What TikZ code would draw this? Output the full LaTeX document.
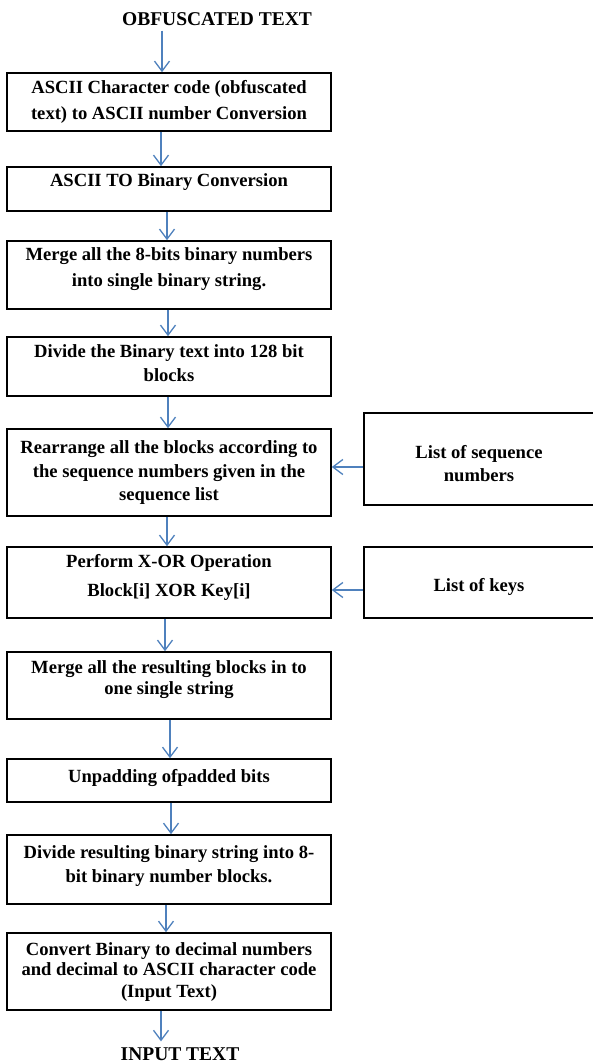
\documentclass[tikz,border=0pt]{standalone}
\usepackage{fontspec}
\setmainfont{Liberation Serif}
\usetikzlibrary{arrows.meta,calc}
\definecolor{arrowblue}{RGB}{79,129,189}
\newcommand{\lift}[2]{\raisebox{#1}[\height][\depth]{\begin{tabular}{@{}c@{}}#2\end{tabular}}}
\newcommand{\boxfont}{\fontsize{18.6}{24}\selectfont\bfseries}
\tikzset{
  stepbox/.style={draw=black, line width=1.6pt, inner sep=0pt, minimum width=324pt, font=\boxfont},
  sidebox/.style={draw=black, line width=1.6pt, inner sep=0pt, minimum width=230pt, font=\boxfont},
  endlabel/.style={inner sep=0pt, font=\fontsize{19.5}{24}\selectfont\bfseries},
  arr/.style={draw=arrowblue, line width=1.3pt, -{Straight Barb[length=10pt,width=15pt,line width=1.3pt]}}
}
\begin{document}
\begin{tikzpicture}[x=1pt,y=-1pt]
\useasboundingbox (0,0) rectangle (593,1064);
\node[endlabel] (top) at (217,19) {OBFUSCATED TEXT};
\node[stepbox, minimum height=58pt] (b1) at (169,102) {\lift{0pt}{ASCII Character code (obfuscated\\[2pt] text) to ASCII number Conversion}};
\node[stepbox, minimum height=44pt] (b2) at (169,189) {\lift{7pt}{ASCII TO Binary Conversion}};
\node[stepbox, minimum height=68pt] (b3) at (169,275) {\lift{6pt}{Merge all the 8-bits binary numbers\\[2pt] into single binary string.}};
\node[stepbox, minimum height=59pt] (b4) at (169,366.5) {\lift{2pt}{Divide the Binary text into 128 bit\\ blocks}};
\node[stepbox, minimum height=87pt] (b5) at (169,472.5) {\lift{0pt}{Rearrange all the blocks according to\\ the sequence numbers given in the\\[-1pt] sequence list}};
\node[stepbox, minimum height=71pt] (b6) at (169,582.5) {\lift{5pt}{Perform X-OR Operation\\[5pt] Block[i] XOR Key[i]}};
\node[stepbox, minimum height=67pt] (b7) at (169,685.5) {\lift{6pt}{Merge all the resulting blocks in to\\[-3pt] one single string}};
\node[stepbox, minimum height=43pt] (b8) at (169,780.5) {\lift{3pt}{Unpadding ofpadded bits}};
\node[stepbox, minimum height=69pt] (b9) at (169,869.5) {\lift{4pt}{Divide resulting binary string into 8-\\ bit binary number blocks.}};
\node[stepbox, minimum height=77pt] (b10) at (169,971.5) {\lift{0pt}{Convert Binary to decimal numbers\\[-4pt] and decimal to ASCII character code\\[-2pt] (Input Text)}};
\node[endlabel] (bottom) at (180,1054) {INPUT TEXT};
\node[sidebox, minimum height=92pt] (r1) at (479,459) {\lift{-6pt}{List of sequence\\[-1pt] numbers}};
\node[sidebox, minimum height=71pt] (r2) at (479,582.5) {\lift{-4pt}{List of keys}};
% vertical flow
\draw[arr] ([xshift=-55pt,yshift=-5pt]top.south) -- ([xshift=-7pt]b1.north);
\draw[arr] ([xshift=-8pt]b1.south) -- ([xshift=-8pt]b2.north);
\draw[arr] ([xshift=-2pt]b2.south) -- ([xshift=-2pt]b3.north);
\draw[arr] ([xshift=-1pt]b3.south) -- ([xshift=-1pt]b4.north);
\draw[arr] ([xshift=-1pt]b4.south) -- ([xshift=-1pt]b5.north);
\draw[arr] ([xshift=-2pt]b5.south) -- ([xshift=-2pt]b6.north);
\draw[arr] ([xshift=-4pt]b6.south) -- ([xshift=-4pt]b7.north);
\draw[arr] ([xshift=1pt]b7.south) -- ([xshift=1pt]b8.north);
\draw[arr] ([xshift=2pt]b8.south) -- ([xshift=2pt]b9.north);
\draw[arr] ([xshift=-3pt]b9.south) -- ([xshift=-3pt]b10.north);
\draw[arr] ([xshift=-8pt]b10.south) -- ([xshift=-19pt,yshift=6pt]bottom.north);
% side inputs
\draw[arr] ([yshift=-8pt]r1.west) -- ([yshift=-8pt]r1.west -| b5.east);
\draw[arr] ([yshift=-7.5pt]r2.west) -- ([yshift=-7.5pt]r2.west -| b6.east);
\end{tikzpicture}
\end{document}
